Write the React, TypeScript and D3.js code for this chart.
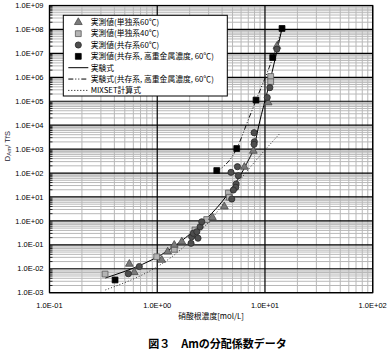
import React from "react";
import * as d3 from "d3";

const W = 391;
const H = 352;
const PL = 49.5, PR = 372.7, PT = 5.5, PB = 292.7;

const xTickValues = [0.1, 1, 10, 100];
const xTickLabels = ["1.0E-01", "1.0E+00", "1.0E+01", "1.0E+02"];
const yTickValues = [1e-3, 1e-2, 1e-1, 1e0, 1e1, 1e2, 1e3, 1e4, 1e5, 1e6, 1e7, 1e8, 1e9];
const yTickLabels = ["1.0E-03", "1.0E-02", "1.0E-01", "1.0E+00", "1.0E+01", "1.0E+02", "1.0E+03", "1.0E+04", "1.0E+05", "1.0E+06", "1.0E+07", "1.0E+08", "1.0E+09"];

// 実測値(単独系60℃)
const single60: [number, number][] = [
  [0.551, 0.0158], [0.612, 0.0071], [1.10, 0.0232], [1.25, 0.0515], [1.44, 0.098], [1.69, 0.135],
  [3.25, 1.41], [4.20, 3.9], [6.44, 178], [7.80, 832], [10.7, 8.8e4], [12.9, 2.0e7],
];
// 実測値(単独系40℃)
const single40: [number, number][] = [
  [0.328, 0.006], [0.989, 0.0318], [1.44, 0.065], [2.24, 0.416], [2.88, 1.14], [4.57, 14.6],
  [4.67, 9.7], [11.3, 1.08e6], [11.3, 6.5e5],
];
// 実測値(共存系60℃)
const coexist60: [number, number][] = [
  [0.539, 0.0062], [0.682, 0.0124], [2.06, 0.116], [2.09, 0.218], [2.16, 0.303], [2.33, 0.353],
  [2.50, 0.57], [2.59, 0.92], [2.39, 0.19], [4.84, 107], [5.55, 184], [5.66, 77], [5.40, 34.8],
  [5.36, 25.3], [5.09, 19.5], [4.92, 8.2], [7.92, 4840], [7.97, 2030], [7.92, 1585],
  [10.5, 1.43e5], [11.1, 3.7e5], [12.9, 1.5e7],
];
// 実測値(共存系、高重金属濃度、60℃)
const coexistHigh: [number, number][] = [
  [0.406, 0.0034], [3.57, 127], [5.47, 1057], [8.26, 1.12e5], [11.8, 6.7e6], [14.4, 1.1e8],
];
// 実験式
const empirical: [number, number][] = [
  [0.33, 0.0041], [1.63, 0.131], [2.59, 0.79], [4.57, 14.2], [6.78, 255], [7.93, 1260],
  [8.82, 1.1e4], [10.8, 4e5], [14.4, 1.1e8],
];
// 実験式(共存系、高重金属濃度、60℃)
const empiricalHigh: [number, number][] = [
  [3.52, 110], [5.47, 1050], [6.97, 1.6e4], [8.26, 1.1e5], [11.8, 6.6e6], [14.4, 1.1e8],
];
// MIXSET計算式
const mixset: [number, number][] = [
  [0.33, 0.0013], [1.63, 0.06], [3.23, 1.3], [6.27, 75], [13.8, 4600],
];

const legendLabels = [
  "実測値(単独系60℃)",
  "実測値(単独系40℃)",
  "実測値(共存系60℃)",
  "実測値(共存系, 高重金属濃度, 60℃)",
  "実験式",
  "実験式(共存系, 高重金属濃度, 60℃)",
  "MIXSET計算式",
];

const x = d3.scaleLog().domain([0.1, 100]).range([PL, PR]);
const y = d3.scaleLog().domain([1e-3, 1e9]).range([PB, PT]);

const tri = d3.symbol(d3.symbolTriangle, 26)()!;
const sq = d3.symbol(d3.symbolSquare, 34)()!;
const circ = d3.symbol(d3.symbolCircle, 30)()!;

const styles = {
  tri: { d: tri, fill: "#7a7a7a", stroke: "#4a4a4a" },
  sq40: { d: sq, fill: "#b4b4b4", stroke: "#5a5a5a" },
  circ: { d: circ, fill: "#4e4e4e", stroke: "#2a2a2a" },
  sqB: { d: sq, fill: "#000", stroke: "#000" },
};

const lineGen = d3
  .line<[number, number]>()
  .x((d) => x(d[0]))
  .y((d) => y(d[1]))
  .curve(d3.curveMonotoneX);

const font = "'Liberation Sans', Arial, sans-serif";
const jfont = "'Noto Sans CJK JP', sans-serif";

export default function App() {
  const minorX: number[] = [];
  for (let e = -1; e < 2; e++) for (let m = 2; m <= 9; m++) minorX.push(m * Math.pow(10, e));
  const minorY: number[] = [];
  for (let e = -3; e < 9; e++) for (let m = 2; m <= 9; m++) minorY.push(m * Math.pow(10, e));

  const markers = (data: [number, number][], s: { d: string; fill: string; stroke: string }, key: string) =>
    data.map((p, i) => (
      <path key={key + i} d={s.d} transform={`translate(${x(p[0])},${y(p[1])})`} fill={s.fill} stroke={s.stroke} strokeWidth={0.8} />
    ));

  const legX = 63.3, legY = 15.3, legW = 164, legH = 80.7;
  const rowY = (i: number) => 22.3 + i * 11.35;
  const symX = 78.3;
  const txtX = 90.7;

  return (
    <div style={{ position: "absolute", left: 0, top: 0 }}>
      <svg width={W} height={H} style={{ display: "block", background: "#fff" }}>
        <defs>
          <clipPath id="plot">
            <rect x={PL} y={PT} width={PR - PL} height={PB - PT} />
          </clipPath>
        </defs>
        <rect x={0} y={0} width={W} height={H} fill="#fff" />
        {/* minor grid */}
        {minorY.map((v, i) => (
          <line key={"my" + i} x1={PL} x2={PR} y1={y(v)} y2={y(v)} stroke="#b8b8b8" strokeWidth={1} />
        ))}
        {minorX.map((v, i) => (
          <line key={"mx" + i} x1={x(v)} x2={x(v)} y1={PT} y2={PB} stroke="#b8b8b8" strokeWidth={1} />
        ))}
        {/* minor ticks on left axis */}
        {minorY.map((v, i) => (
          <line key={"ty" + i} x1={PL} x2={PL + 3} y1={y(v)} y2={y(v)} stroke="#000" strokeWidth={0.8} />
        ))}
        {/* major grid */}
        {yTickValues.map((v, i) => (
          <line key={"My" + i} x1={PL} x2={PR} y1={y(v)} y2={y(v)} stroke="#000" strokeWidth={1.2} />
        ))}
        {xTickValues.map((v, i) => (
          <line key={"Mx" + i} x1={x(v)} x2={x(v)} y1={PT} y2={PB} stroke="#000" strokeWidth={1.2} />
        ))}
        <rect x={PL} y={PT} width={PR - PL} height={PB - PT} fill="none" stroke="#000" strokeWidth={1.2} />

        {/* tick labels */}
        {yTickValues.map((v, i) => (
          <text key={"yl" + i} x={43.5} y={y(v)} dy="0.35em" textAnchor="end" fontFamily={font} fontSize={7.5} fill="#000">
            {yTickLabels[i]}
          </text>
        ))}
        {xTickValues.map((v, i) => (
          <text key={"xl" + i} x={x(v)} y={307.5} textAnchor="middle" fontFamily={font} fontSize={7.5} fill="#000">
            {xTickLabels[i]}
          </text>
        ))}

        {/* curves */}
        <g clipPath="url(#plot)">
          <path d={lineGen(mixset)!} fill="none" stroke="#333" strokeWidth={1} strokeDasharray="1,2" />
          <path d={lineGen(empiricalHigh)!} fill="none" stroke="#111" strokeWidth={1} strokeDasharray="5,2,1,2,1,2" />
          <path d={lineGen(empirical)!} fill="none" stroke="#000" strokeWidth={1} />
        </g>

        {/* markers */}
        <g>
          {markers(single40, styles.sq40, "s40")}
          {markers(single60, styles.tri, "t60")}
          {markers(coexist60, styles.circ, "c60")}
          {markers(coexistHigh, styles.sqB, "cb")}
        </g>

        {/* legend */}
        <rect x={legX} y={legY} width={legW} height={legH} fill="#fff" stroke="#000" strokeWidth={1} />
        <path d={tri} transform={`translate(${symX},${rowY(0)})`} fill={styles.tri.fill} stroke={styles.tri.stroke} strokeWidth={0.8} />
        <path d={sq} transform={`translate(${symX},${rowY(1)})`} fill={styles.sq40.fill} stroke={styles.sq40.stroke} strokeWidth={0.8} />
        <path d={circ} transform={`translate(${symX},${rowY(2)})`} fill={styles.circ.fill} stroke={styles.circ.stroke} strokeWidth={0.8} />
        <path d={sq} transform={`translate(${symX},${rowY(3)})`} fill="#000" stroke="#000" strokeWidth={0.8} />
        <line x1={68.3} x2={88.3} y1={rowY(4)} y2={rowY(4)} stroke="#000" strokeWidth={1} />
        <line x1={68.3} x2={88.3} y1={rowY(5)} y2={rowY(5)} stroke="#000" strokeWidth={1} strokeDasharray="5,2,1,2,1,2" />
        <line x1={68.3} x2={88.3} y1={rowY(6)} y2={rowY(6)} stroke="#000" strokeWidth={1} strokeDasharray="1,2" />
        {legendLabels.map((t, i) => (
          <text key={"lg" + i} x={txtX} y={rowY(i)} dy="0.36em" fontFamily={jfont} fontSize={7.8} fill="#000">
            {t}
          </text>
        ))}

        {/* axis titles */}
        <text x={(PL + PR) / 2} y={319} textAnchor="middle" fontFamily={jfont} fontSize={7.8} fill="#000">
          硝酸根濃度[mol/L]
        </text>
        <text transform={`translate(10,${(PT + PB) / 2 - 3}) rotate(-90)`} textAnchor="middle" fontFamily={font} fontSize={7.5} fill="#223">
          D<tspan fontSize={6} dy={1}>Am</tspan>
          <tspan dy={-1}>/ TfS</tspan>
        </text>

        {/* caption */}
        <text x={217.5} y={348} textAnchor="middle" fontFamily={jfont} fontWeight="bold" fontSize={11} fill="#000">
          図３　Amの分配係数データ
        </text>
      </svg>
    </div>
  );
}
